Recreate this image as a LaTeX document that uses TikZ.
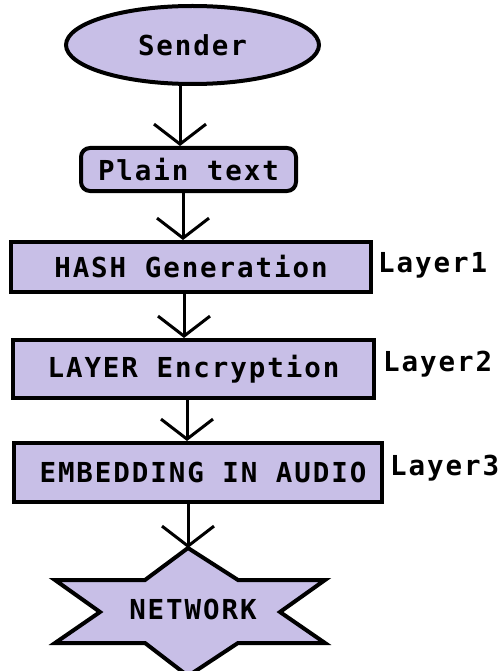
\documentclass[tikz,border=0pt]{standalone}
\usepackage{fontspec}
\setmonofont{DejaVu Sans Mono}
\newfontfamily\boxfont[LetterSpace=7]{DejaVu Sans Mono Bold}
\usetikzlibrary{shapes.geometric,arrows.meta,calc}
\definecolor{lav}{RGB}{200,191,231}
\tikzset{
  boxstyle/.style={draw=black, line width=4pt, fill=lav, inner sep=0pt, font=\boxfont\fontsize{27.5}{30}\selectfont},
  rectbox/.style={boxstyle, rectangle},
  lbl/.style={anchor=west, inner sep=0pt, font=\boxfont\fontsize{27.5}{30}\selectfont},
  flow/.style={line width=3pt, -{Straight Barb[length=20pt,width=52pt,line width=3pt]}},
}
\begin{document}
\begin{tikzpicture}[x=1pt,y=-1pt]
\useasboundingbox (0,0) rectangle (499,671);
\begin{scope}
\clip (0,0) rectangle (499,671);
% Sender
\node[boxstyle, ellipse, minimum width=253pt, minimum height=78pt] (sender) at (192.5,45) {Sender};
% Plain text
\node[boxstyle, rectangle, rounded corners=9pt, minimum width=215pt, minimum height=43pt] (plain) at (188.5,169.5) {Plain text};
% boxes
\node[rectbox, minimum width=360pt, minimum height=50pt] (hash) at (191,267) {HASH Generation};
\node[rectbox, minimum width=361pt, minimum height=58pt] (layer) at (193.5,369) {LAYER Encryption};
\node[rectbox, minimum width=368pt, minimum height=59pt] (embed) at (198,472.5) {\hspace*{10pt}EMBEDDING IN AUDIO};
% star
\draw[line width=4pt, fill=lav, line join=miter]
  (188,548) -- (238,580) -- (325,580) -- (280,612) -- (325,643) -- (238,643)
  -- (188,676) -- (145,643) -- (55,643) -- (100,612) -- (55,580) -- (145,580) -- cycle;
\end{scope}
\node[inner sep=0pt, font=\boxfont\fontsize{27.5}{30}\selectfont] (network) at (193,609) {NETWORK};
\coordinate (nettop) at (188,548);
% labels
\node[lbl] (l1) at (378,265) {Layer1};
\node[lbl] (l2) at (383,364) {Layer2};
\node[lbl] (l3) at (390,468) {Layer3};
% connectors
\draw[flow] ([xshift=-12.5pt]sender.south) -- ([xshift=-8.5pt]plain.north);
\draw[flow] ([xshift=-5.5pt]plain.south) -- ([xshift=-8pt]hash.north);
\draw[flow] ([xshift=-7pt]hash.south) -- ([xshift=-9.5pt]layer.north);
\draw[flow] ([xshift=-6.5pt]layer.south) -- ([xshift=-11pt]embed.north);
\draw[flow] ([xshift=-10pt]embed.south) -- (nettop);
\end{tikzpicture}
\end{document}
